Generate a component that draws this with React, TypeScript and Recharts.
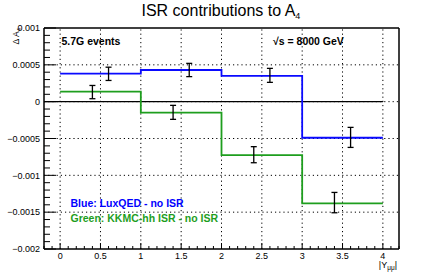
import React from 'react';
import { ComposedChart, Line, Scatter, ErrorBar, XAxis, YAxis, ReferenceLine } from 'recharts';

// ---- data ----
const binEdges = [0, 1, 2, 3, 4];
const blueValues = [0.00038, 0.00043, 0.00035, -0.00049];
const greenValues = [0.000135, -0.00015, -0.000725, -0.00138];

const bluePointX = [0.6, 1.6, 2.6, 3.6];
const bluePointY = [0.000378, 0.00043, 0.000357, -0.000485];
const bluePointErr = [0.00009, 0.00009, 0.000095, 0.000136];

const greenPointX = [0.4, 1.4, 2.4, 3.4];
const greenPointY = [0.00013, -0.000145, -0.00072, -0.00137];
const greenPointErr = [0.00009, 0.000095, 0.000109, 0.000138];

const xMajorTicks = [0, 0.5, 1, 1.5, 2, 2.5, 3, 3.5, 4];
const xTickLabels = ['0', '0.5', '1', '1.5', '2', '2.5', '3', '3.5', '4'];
const yMajorTicks = [0.001, 0.0005, 0, -0.0005, -0.001, -0.0015, -0.002];
const yTickLabels = ['0.001', '0.0005', '0', '\u22120.0005', '\u22120.001', '\u22120.0015', '\u22120.002'];
const yGridValues = [0.0005, 0, -0.0005, -0.001, -0.0015];

const xMinorTicks: number[] = [];
for (let i = -2; i <= 42; i++) xMinorTicks.push(i / 10);
const yMinorTicks: number[] = [];
for (let i = -20; i <= 10; i++) yMinorTicks.push(i / 10000);

// ---- layout ----
const W = 443;
const H = 277;
const PL = 44;
const PR = 399;
const PT = 28;
const PB = 249;

const BLUE = '#0a0aff';
const GREEN = '#1e9e1e';

const toStep = (vals: number[]) =>
  binEdges.map((x, i) => ({ x, y: vals[Math.min(i, vals.length - 1)] }));
const toPoints = (xs: number[], ys: number[], es: number[]) =>
  xs.map((x, i) => ({ x, y: ys[i], err: es[i] }));

const blueStep = toStep(blueValues);
const greenStep = toStep(greenValues);
const bluePts = toPoints(bluePointX, bluePointY, bluePointErr);
const greenPts = toPoints(greenPointX, greenPointY, greenPointErr);

const near = (a: number, b: number) => Math.abs(a - b) < 1e-9;

const YTick = (props: any) => {
  const { y, payload } = props;
  const v = payload.value;
  const idx = yMajorTicks.findIndex((t) => near(t, v));
  const major = idx >= 0;
  return (
    <g>
      <line x1={PL} x2={PL + (major ? 12 : 6)} y1={y} y2={y} stroke="#000" strokeWidth={1} />
      {major && (
        <text x={PL - 4} y={y} dy={3.2} textAnchor="end" fontSize={9} fill="#000">
          {yTickLabels[idx]}
        </text>
      )}
    </g>
  );
};

const XTick = (props: any) => {
  const { x, payload } = props;
  const v = payload.value;
  const idx = xMajorTicks.findIndex((t) => near(t, v));
  const major = idx >= 0;
  return (
    <g>
      <line x1={x} x2={x} y1={PB} y2={PB - (major ? 6 : 3)} stroke="#000" strokeWidth={1} />
      {major && (
        <text x={x} y={PB + 10} textAnchor="middle" fontSize={9} fill="#000">
          {xTickLabels[idx]}
        </text>
      )}
    </g>
  );
};

const NoShape = () => <g />;

export default function App() {
  return (
    <div style={{ position: 'absolute', left: 0, top: 0, width: W, height: H, background: '#fff', fontFamily: '"Liberation Sans", Arial, sans-serif' }}>
      <ComposedChart width={W} height={H} margin={{ top: PT, right: W - PR, bottom: 0, left: 0 }}>
        <XAxis
          dataKey="x"
          type="number"
          domain={[-0.2, 4.2]}
          ticks={xMinorTicks}
          interval={0}
          tick={<XTick />}
          tickLine={false}
          axisLine={{ stroke: '#000', strokeWidth: 1.5 }}
          height={H - PB}
          allowDataOverflow
        />
        <YAxis
          dataKey="y"
          type="number"
          domain={[-0.002, 0.001]}
          ticks={yMinorTicks}
          interval={0}
          tick={<YTick />}
          tickLine={false}
          axisLine={{ stroke: '#000', strokeWidth: 1.5 }}
          width={PL}
          allowDataOverflow
        />
        {xMajorTicks.map((v) => (
          <ReferenceLine key={'gx' + v} x={v} stroke="#000" strokeWidth={1} strokeDasharray="1.2 3" />
        ))}
        {yGridValues.map((v) => (
          <ReferenceLine key={'gy' + v} y={v} stroke="#000" strokeWidth={1} strokeDasharray="1.2 3" />
        ))}
        <ReferenceLine segment={[{ x: -0.2, y: 0 }, { x: 4, y: 0 }]} stroke="#000" strokeWidth={1.3} />
        <ReferenceLine x={4.2} stroke="#000" strokeWidth={1.5} />
        <ReferenceLine y={0.001} stroke="#000" strokeWidth={1.5} />
        <Line data={blueStep} dataKey="y" type="stepAfter" stroke={BLUE} strokeWidth={1.8} dot={false} isAnimationActive={false} />
        <Line data={greenStep} dataKey="y" type="stepAfter" stroke={GREEN} strokeWidth={1.8} dot={false} isAnimationActive={false} />
        <Scatter data={bluePts} dataKey="y" shape={NoShape} isAnimationActive={false}>
          <ErrorBar dataKey="err" direction="y" width={3} stroke="#000" strokeWidth={1.3} isAnimationActive={false} />
        </Scatter>
        <Scatter data={greenPts} dataKey="y" shape={NoShape} isAnimationActive={false}>
          <ErrorBar dataKey="err" direction="y" width={3} stroke="#000" strokeWidth={1.3} isAnimationActive={false} />
        </Scatter>
      </ComposedChart>
      <svg width={W} height={H} style={{ position: 'absolute', left: 0, top: 0, pointerEvents: 'none' }}>
        <text x={141.5} y={16} fontSize={16} fill="#000">
          ISR contributions to A<tspan fontSize={9} dy={3}>4</tspan>
        </text>
        <text transform="translate(19,28) rotate(-90)" textAnchor="end" fontSize={8.5} fill="#000">
          {'\u0394 A'}<tspan fontSize={6} dy={2}>4</tspan>
        </text>
        <text x={61.5} y={45} fontSize={10.5} fontWeight="bold" fill="#000">5.7G events</text>
        <text x={273} y={45} fontSize={10.5} fontWeight="bold" fill="#000">{'\u221As = 8000 GeV'}</text>
        <text x={70.5} y={207} fontSize={10.5} fontWeight="bold" fill="#0000ff">Blue: LuxQED - no ISR</text>
        <text x={70.5} y={221.5} fontSize={10.5} fontWeight="bold" fill={GREEN}>Green: KKMC-hh ISR - no ISR</text>
        <text x={397} y={268} textAnchor="end" fontSize={9} fill="#000">
          |Y<tspan fontSize={6.5} dy={2}>{'\u03BC\u03BC'}</tspan><tspan dy={-2}>|</tspan>
        </text>
      </svg>
    </div>
  );
}
